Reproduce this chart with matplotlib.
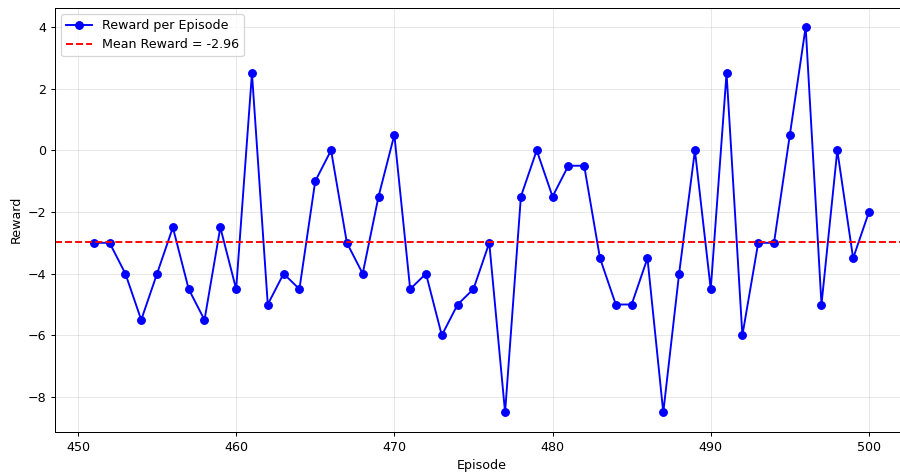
import numpy as np
import matplotlib
matplotlib.use("Agg")
import matplotlib.pyplot as plt

episodes = np.arange(451, 501)
rewards = [-3, -3, -4, -5.5, -4, -2.5, -4.5, -5.5, -2.5, -4.5,
           2.5, -5, -4, -4.5, -1, 0, -3, -4, -1.5, 0.5,
           -4.5, -4, -6, -5, -4.5, -3, -8.5, -1.5, 0, -1.5,
           -0.5, -0.5, -3.5, -5, -5, -3.5, -8.5, -4, 0, -4.5,
           2.5, -6, -3, -3, 0.5, 4, -5, 0, -3.5, -2]

mean_r = np.mean(rewards)

# original screenshot looks scaled down a bit, so use a lower dpi
dpi = 91
fig = plt.figure(figsize=(900 / dpi, 472 / dpi), dpi=dpi)
ax = fig.add_axes([55 / 900, 40.3 / 472, 852.7 / 900, 424 / 472])
ax.plot(episodes, rewards, 'o-', color='blue', label='Reward per Episode')
ax.axhline(mean_r, color='red', linestyle='--', label=f'Mean Reward = {mean_r:.2f}')
ax.set_xlabel('Episode')
ax.set_ylabel('Reward')
ax.grid(alpha=0.3)
ax.legend(loc='upper left')
fig.savefig('out.png', dpi=dpi)
